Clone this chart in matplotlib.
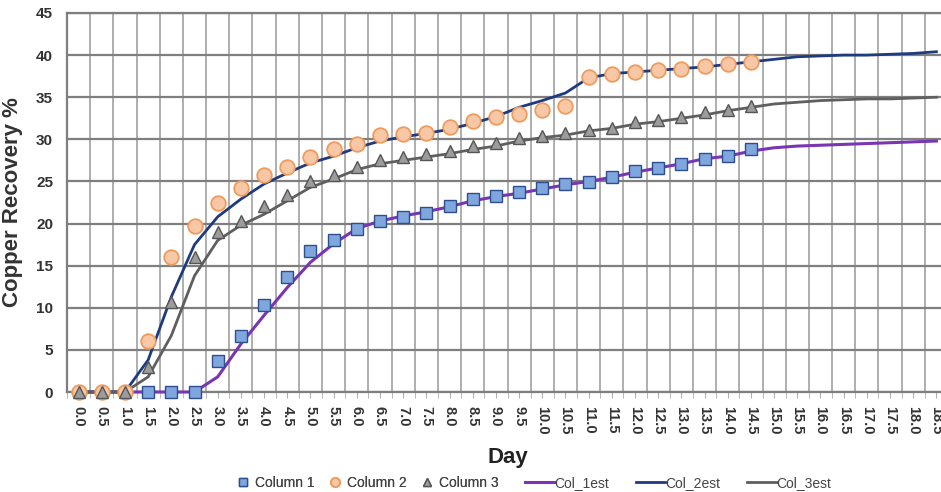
import numpy as np
import matplotlib
matplotlib.use("Agg")
import matplotlib.pyplot as plt
from matplotlib.ticker import MultipleLocator

plt.rcParams['font.family'] = ['Liberation Sans', 'DejaVu Sans']

# days (category axis)
day = [0.0, 0.5, 1.0, 1.5, 2.0, 2.5, 3.0, 3.5, 4.0, 4.5, 5.0, 5.5, 6.0, 6.5,
       7.0, 7.5, 8.0, 8.5, 9.0, 9.5, 10.0, 10.5, 11.0, 11.5, 12.0, 12.5,
       13.0, 13.5, 14.0, 14.5, 15.0, 15.5, 16.0, 16.5, 17.0, 17.5, 18.0, 18.5]

# measured recovery (%)
col1_day = day[3:30]
col1 = [0, 0, 0, 3.7, 6.7, 10.3, 13.7, 16.8, 18.1, 19.4, 20.3, 20.8, 21.3, 22.1,
        22.9, 23.3, 23.8, 24.2, 24.7, 24.9, 25.5, 26.2, 26.6, 27.1, 27.7, 28.0, 28.8]
col_day = day[:30]
col2 = [0, 0, 0, 6.1, 16.0, 19.7, 22.4, 24.2, 25.8, 26.7, 27.9, 28.8, 29.5, 30.5,
        30.6, 30.8, 31.5, 32.2, 32.7, 33.0, 33.5, 34.0, 37.4, 37.8, 38.0, 38.2,
        38.4, 38.7, 38.9, 39.2]
col3 = [0, 0, 0, 3.0, 10.7, 16.0, 19.0, 20.3, 22.1, 23.4, 25.1, 25.8, 26.7, 27.5,
        27.9, 28.3, 28.6, 29.2, 29.6, 30.1, 30.4, 30.7, 31.1, 31.4, 32.0, 32.3,
        32.7, 33.2, 33.5, 33.9]

# model estimates
est1 = [0, 0, 0, 0, 0, 0, 1.8, 5.7, 9.1, 12.4, 15.4, 17.6, 19.4, 20.3, 20.9, 21.4,
        22.0, 22.7, 23.2, 23.6, 24.1, 24.6, 25.0, 25.5, 26.1, 26.6, 27.1, 27.7,
        28.0, 28.6, 29.0, 29.2, 29.3, 29.4, 29.5, 29.6, 29.7, 29.8]
est2 = [0, 0, 0, 3.8, 11.3, 17.5, 20.8, 22.9, 24.7, 26.0, 27.2, 28.0, 29.0, 29.8,
        30.3, 30.7, 31.2, 31.9, 32.7, 33.8, 34.6, 35.5, 37.3, 37.8, 38.0, 38.2,
        38.4, 38.6, 38.9, 39.2, 39.5, 39.8, 39.9, 40.0, 40.0, 40.1, 40.2, 40.4]
est3 = [0, 0, 0, 1.8, 6.7, 13.8, 18.0, 19.8, 21.1, 22.7, 24.3, 25.3, 26.4, 27.1,
        27.5, 27.9, 28.3, 28.8, 29.2, 29.8, 30.2, 30.5, 31.0, 31.3, 31.8, 32.1,
        32.5, 32.9, 33.4, 33.8, 34.2, 34.4, 34.6, 34.7, 34.8, 34.8, 34.9, 35.0]

fig = plt.figure(figsize=(9.41, 4.92), dpi=100)
ax = fig.add_axes([67/941, 100/492, 881/941, 379/492])

# lines first, markers on top
l1, = ax.plot(day, est1, color='#7a35b3', lw=2.2, zorder=3, clip_on=False, label='Col_1est')
l2, = ax.plot(day, est2, color='#1f3b80', lw=2.0, zorder=3, clip_on=False, label='Col_2est')
l3, = ax.plot(day, est3, color='#5f5f5f', lw=2.0, zorder=3, clip_on=False, label='Col_3est')

m1, = ax.plot(col1_day, col1, ls='none', marker='s', ms=8.5, mfc='#7fa6dd', mec='#2e4f8f',
              mew=1.0, zorder=4, clip_on=False, label='Column 1')
m2, = ax.plot(col_day, col2, ls='none', marker='o', ms=10.5, mfc='#f8c8a6', mec='#ef9b5e',
              mew=1.3, zorder=4, clip_on=False, label='Column 2')
m3, = ax.plot(col_day, col3, ls='none', marker='^', ms=9, mfc='#9c9c9c', mec='#555555',
              mew=1.0, zorder=4, clip_on=False, label='Column 3')

ax.set_xlim(-0.25, 18.75)
ax.set_ylim(0, 45)
ax.set_xticks(day)
ax.set_xticklabels(['%.1f' % d for d in day], rotation=-90, fontsize=10.5,
                   fontweight='bold', color='#333333')
ax.set_xticks([d + 0.25 for d in day[:-1]] + [-0.25], minor=True)
ax.yaxis.set_major_locator(MultipleLocator(5))
for t in ax.get_yticklabels():
    t.set_fontsize(11)
    t.set_fontweight('bold')
    t.set_color('#333333')
ax.tick_params(axis='y', length=0, pad=10)
ax.tick_params(axis='x', which='both', length=4, color='#b0b0b0', pad=6)

ax.grid(axis='x', which='minor', color='#a8a8a8', lw=1.3, zorder=0)
ax.grid(axis='y', which='major', color='#7f7f7f', lw=1.6, zorder=0)
ax.grid(axis='x', which='major', visible=False)
ax.set_axisbelow(True)
for s in ax.spines.values():
    s.set_color('#7f7f7f')
    s.set_linewidth(1.6)

ax.set_ylabel('Copper Recovery %', fontsize=16, fontweight='bold', color='#333333')
ax.yaxis.set_label_coords(-0.05, 0.5)
ax.set_xlabel('Day', fontsize=16, fontweight='bold', color='#222222')
ax.xaxis.set_label_coords(441/881, -0.145)

leg1 = fig.legend(handles=[m1, m2, m3], loc='center', bbox_to_anchor=(368/941, 9/492),
                  ncol=3, frameon=False, fontsize=10, markerscale=0.62,
                  handlelength=0.8, handletextpad=0.45, columnspacing=1.1,
                  labelcolor='#444444')
leg2 = fig.legend(handles=[l1, l2, l3], loc='center', bbox_to_anchor=(678/941, 9/492),
                  ncol=3, frameon=False, fontsize=10, handlelength=2.15,
                  handletextpad=0.0, columnspacing=1.9, labelcolor='#444444')
fig.add_artist(leg1)

fig.savefig('out.png', dpi=100)
